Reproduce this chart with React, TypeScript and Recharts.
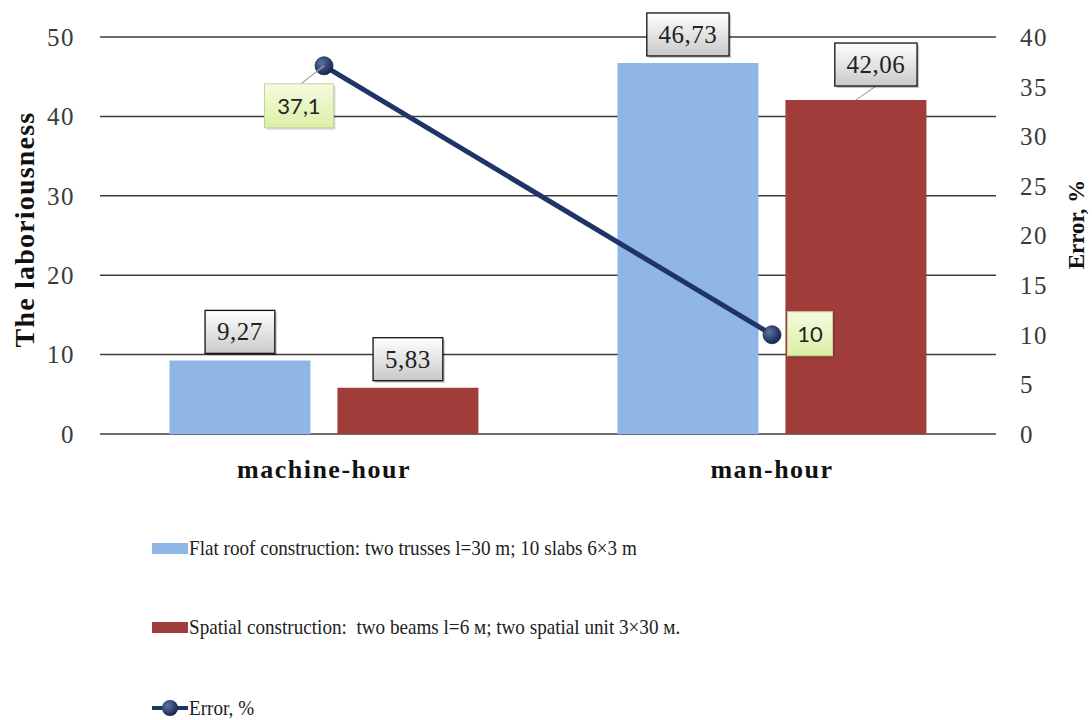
import React from "react";
import {
  ComposedChart,
  Bar,
  Line,
  XAxis,
  YAxis,
  CartesianGrid,
  LabelList,
  Legend,
} from "recharts";

const categories = ["machine-hour", "man-hour"];
const flatRoof = [9.27, 46.73];
const spatial = [5.83, 42.06];
const errorPct = [37.1, 10];
const leftTicks = [0, 10, 20, 30, 40, 50];
const rightTicks = [0, 5, 10, 15, 20, 25, 30, 35, 40];

const FLAT_NAME = "Flat roof construction: two trusses l=30 m; 10 slabs 6×3 m";
const SPATIAL_NAME = "Spatial construction:  two beams l=6 м; two spatial unit 3×30 м.";
const ERROR_NAME = "Error, %";

const data = categories.map((name, i) => ({
  name,
  flat: flatRoof[i],
  spatial: spatial[i],
  error: errorPct[i],
}));

const SERIF = '"Liberation Serif", "Times New Roman", serif';
const SANS = 'Lato, "Open Sans", sans-serif';
const BLUE = "#8fb6e6";
const RED = "#a03c39";
const NAVY = "#1f3568";

// manual label nudges (Excel-style moved labels)
const spatialNudge = [
  { dx: 0, dy: 0 },
  { dx: 20, dy: -7 },
];
const errorNudge = [
  { dx: -25, dy: 40 },
  { dx: 38, dy: -1 },
];

const fmt = (v: number) => String(v).replace(".", ",");

function valueBoxWidth(text: string, fs: number) {
  let w = 0;
  for (const ch of text) w += ch === "," ? fs * 0.25 : fs * 0.5;
  return w + 26;
}

function BarValueLabel(props: any) {
  const { x, y, width, value, index, nudge } = props;
  const text = fmt(value);
  const fs = 25;
  const w = valueBoxWidth(text, fs);
  const h = 43;
  const n = nudge ? nudge[index] : { dx: 0, dy: 0 };
  const cx = x + width / 2 + n.dx;
  const bottom = y - 7 + n.dy;
  return (
    <g>
      {(n.dx !== 0 || n.dy !== 0) && (
        <line x1={x + width / 2} y1={y} x2={cx} y2={bottom} stroke="#8c8c8c" strokeWidth={1} />
      )}
      <rect x={cx - w / 2 + 2} y={bottom - h + 2} width={w} height={h} fill="rgba(0,0,0,0.22)" />
      <rect
        x={cx - w / 2}
        y={bottom - h}
        width={w}
        height={h}
        fill="url(#boxGray)"
        stroke="#111"
        strokeWidth={1.3}
      />
      <text
        x={cx}
        y={bottom - h / 2}
        textAnchor="middle"
        dominantBaseline="central"
        fontFamily={SERIF}
        fontSize={fs}
        letterSpacing={0.5}
        fill="#222"
      >
        {text}
      </text>
    </g>
  );
}

function ErrorLabel(props: any) {
  const { x, y, value, index } = props;
  const text = fmt(value);
  const fs = 22;
  const w = text.length > 2 ? 69 : 45;
  const h = 44;
  const n = errorNudge[index];
  const cx = x + n.dx;
  const cy = y + n.dy;
  return (
    <g>
      {n.dy > h / 2 && (
        <line x1={cx + 2} y1={cy - h / 2} x2={x} y2={y} stroke="#a8a8a8" strokeWidth={1.2} />
      )}
      <rect x={cx - w / 2 + 2} y={cy - h / 2 + 2} width={w} height={h} fill="rgba(0,0,0,0.15)" />
      <rect
        x={cx - w / 2}
        y={cy - h / 2}
        width={w}
        height={h}
        fill="url(#boxGreen)"
        stroke="#c3d497"
        strokeWidth={1}
      />
      <text
        x={cx}
        y={cy}
        textAnchor="middle"
        dominantBaseline="central"
        fontFamily={SANS}
        fontSize={fs}
        fill="#222"
      >
        {text}
      </text>
    </g>
  );
}

function ErrorDot(props: any) {
  const { cx, cy } = props;
  if (cx == null || cy == null) return null;
  return <circle cx={cx} cy={cy} r={9} fill="url(#dotNavy)" stroke="#15254d" strokeWidth={0.8} />;
}

function LeftTitle(props: any) {
  const vb = props.viewBox || { y: 37, height: 397 };
  const cx = 24;
  const cy = vb.y + vb.height / 2 - 6;
  return (
    <text
      x={cx}
      y={cy}
      transform={`rotate(-90, ${cx}, ${cy})`}
      textAnchor="middle"
      dominantBaseline="central"
      fontFamily={SERIF}
      fontWeight="bold"
      fontSize={28}
      letterSpacing={1.2}
      fill="#111"
    >
      The laboriousness
    </text>
  );
}

function RightTitle(props: any) {
  const vb = props.viewBox || { y: 37, height: 397 };
  const cx = 1076;
  const cy = vb.y + vb.height / 2 - 11;
  return (
    <text
      x={cx}
      y={cy}
      transform={`rotate(-90, ${cx}, ${cy})`}
      textAnchor="middle"
      dominantBaseline="central"
      fontFamily={SERIF}
      fontWeight="bold"
      fontSize={23}
      fill="#111"
    >
      {ERROR_NAME}
    </text>
  );
}

function LegendBox() {
  const row: React.CSSProperties = {
    position: "absolute",
    left: 152,
    display: "flex",
    alignItems: "center",
    fontFamily: SERIF,
    fontSize: 21.5,
    color: "#222",
    whiteSpace: "pre",
    lineHeight: "26px",
  };
  // the legend text is drawn slightly condensed
  const label: React.CSSProperties = {
    display: "inline-block",
    transform: "scaleX(0.89)",
    transformOrigin: "left center",
  };
  return (
    <div style={{ position: "relative", width: 1092, height: 230 }}>
      <div style={{ ...row, top: 58 - 13 }}>
        <span style={{ width: 36, height: 11, background: BLUE, marginRight: 1 }} />
        <span style={label}>{FLAT_NAME}</span>
      </div>
      <div style={{ ...row, top: 137 - 13 }}>
        <span style={{ width: 36, height: 11, background: RED, marginRight: 1 }} />
        <span style={label}>{SPATIAL_NAME}</span>
      </div>
      <div style={{ ...row, top: 218 - 13 }}>
        <svg width={36} height={20} style={{ marginRight: 1 }}>
          <line x1={0} y1={10} x2={36} y2={10} stroke={NAVY} strokeWidth={4} />
          <circle cx={18} cy={10} r={8} fill="url(#dotNavyLegend)" />
          <defs>
            <radialGradient id="dotNavyLegend" cx="35%" cy="35%" r="70%">
              <stop offset="0%" stopColor="#5d72a6" />
              <stop offset="100%" stopColor="#14234b" />
            </radialGradient>
          </defs>
        </svg>
        <span style={label}>{ERROR_NAME}</span>
      </div>
    </div>
  );
}

export default function App() {
  const tickStyle = { fontFamily: SERIF, fontSize: 25, fill: "#3a3a3a", letterSpacing: 1.5 };
  return (
    <div style={{ position: "absolute", left: 0, top: 0, background: "#fff" }}>
      <ComposedChart
        width={1092}
        height={720}
        data={data}
        margin={{ top: 37, right: 0, bottom: 0, left: 0 }}
        barCategoryGap="15.5%"
        barGap={27}
      >
        <defs>
          <linearGradient id="boxGray" x1="0" y1="0" x2="0" y2="1">
            <stop offset="0%" stopColor="#ffffff" />
            <stop offset="100%" stopColor="#c9c9c9" />
          </linearGradient>
          <linearGradient id="boxGreen" x1="0" y1="0" x2="0" y2="1">
            <stop offset="0%" stopColor="#f5fbe0" />
            <stop offset="100%" stopColor="#dbefa6" />
          </linearGradient>
          <radialGradient id="dotNavy" cx="35%" cy="35%" r="70%">
            <stop offset="0%" stopColor="#5d72a6" />
            <stop offset="100%" stopColor="#14234b" />
          </radialGradient>
        </defs>
        <CartesianGrid
          yAxisId="left"
          vertical={false}
          stroke="#3c3c3c"
          strokeWidth={1.5}
        />
        <XAxis
          dataKey="name"
          height={56}
          axisLine={false}
          tickLine={false}
          tickSize={0}
          tickMargin={26}
          tick={{ fontFamily: SERIF, fontSize: 26, fontWeight: "bold", fill: "#111", letterSpacing: 1.5 }}
        />
        <YAxis
          yAxisId="left"
          domain={[0, 50]}
          ticks={leftTicks}
          width={100}
          axisLine={false}
          tickLine={false}
          tickSize={0}
          tickMargin={25}
          tick={tickStyle}
          label={<LeftTitle />}
        />
        <YAxis
          yAxisId="right"
          orientation="right"
          domain={[0, 40]}
          ticks={rightTicks}
          width={96}
          axisLine={false}
          tickLine={false}
          tickSize={0}
          tickMargin={24}
          tick={tickStyle}
          label={<RightTitle />}
        />
        <Legend
          verticalAlign="bottom"
          layout="horizontal"
          content={() => <LegendBox />}
          wrapperStyle={{ left: 0, width: 1092 }}
        />
        <Bar yAxisId="left" dataKey="flat" name={FLAT_NAME} fill={BLUE} isAnimationActive={false}>
          <LabelList dataKey="flat" content={<BarValueLabel />} />
        </Bar>
        <Bar yAxisId="left" dataKey="spatial" name={SPATIAL_NAME} fill={RED} isAnimationActive={false}>
          <LabelList dataKey="spatial" content={<BarValueLabel nudge={spatialNudge} />} />
        </Bar>
        <Line
          yAxisId="right"
          dataKey="error"
          name={ERROR_NAME}
          stroke={NAVY}
          strokeWidth={5}
          dot={<ErrorDot />}
          activeDot={false}
          isAnimationActive={false}
        >
          <LabelList dataKey="error" content={<ErrorLabel />} />
        </Line>
      </ComposedChart>
    </div>
  );
}
